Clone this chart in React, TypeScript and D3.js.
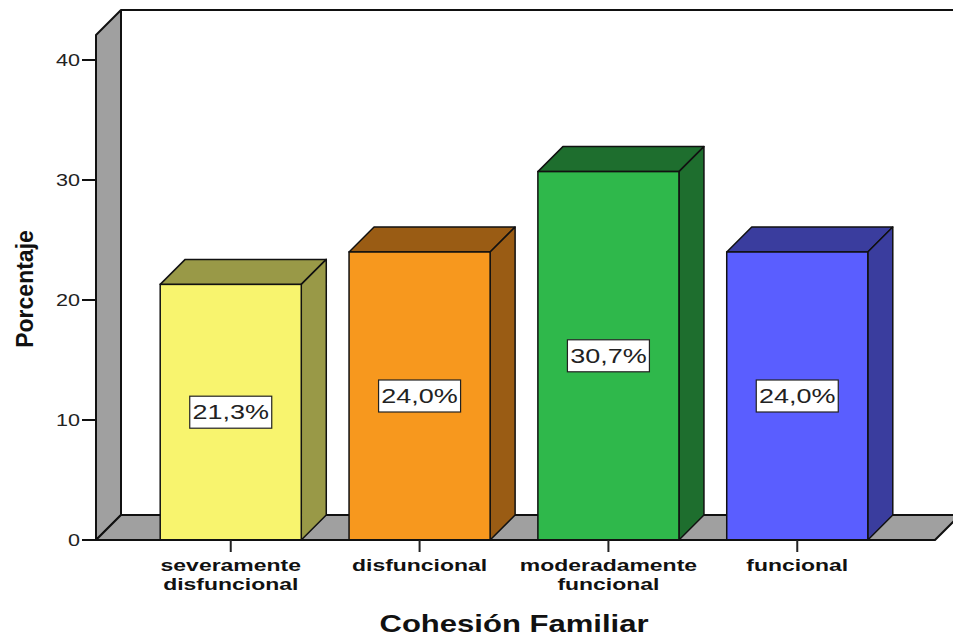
import React from "react";
import * as d3 from "d3";

const categories = ["severamente disfuncional", "disfuncional", "moderadamente funcional", "funcional"];
const labelLines = [["severamente", "disfuncional"], ["disfuncional"], ["moderadamente", "funcional"], ["funcional"]];
const values = [21.3, 24.0, 30.7, 24.0];
const valueLabels = ["21,3%", "24,0%", "30,7%", "24,0%"];
const yTicks = [0, 10, 20, 30, 40];
const frontColors = ["#F8F46E", "#F7981E", "#2FB84B", "#5A5EFF"];
const shadeColors = ["#999947", "#9A5C14", "#1E6E2E", "#3A3D9E"];

const W = 953;
const H = 637;
const DEPTH = 25;
const AXIS_X = 96;
const FLOOR_RIGHT = 935;
const SX = 1.35; // horizontal widening of the text glyphs

export default function App() {
  const y = d3.scaleLinear().domain([0, 40]).range([540, 60]);
  const x = d3
    .scaleBand<string>()
    .domain(categories)
    .range([113, 915])
    .paddingInner(0.253)
    .paddingOuter(0.25);

  const yTop = y(42.08);
  const y0 = y(0);
  const font = "'Liberation Sans', Arial, sans-serif";
  const pts = (p: [number, number][]) => p.map((q) => q.join(",")).join(" ");

  return (
    <svg width={W} height={H} style={{ position: "absolute", left: 0, top: 0, background: "#fff" }}>
      {/* back wall top edge and back vertical */}
      <line x1={AXIS_X + DEPTH} y1={yTop - DEPTH} x2={W + 10} y2={yTop - DEPTH} stroke="#111" strokeWidth={2} />
      <line x1={AXIS_X + DEPTH} y1={yTop - DEPTH} x2={AXIS_X + DEPTH} y2={y0 - DEPTH} stroke="#111" strokeWidth={2} />
      {/* left wall */}
      <polygon
        points={pts([
          [AXIS_X, yTop],
          [AXIS_X + DEPTH, yTop - DEPTH],
          [AXIS_X + DEPTH, y0 - DEPTH],
          [AXIS_X, y0],
        ])}
        fill="#A0A0A0"
        stroke="#111"
        strokeWidth={2}
        strokeLinejoin="round"
      />
      {/* floor */}
      <polygon
        points={pts([
          [AXIS_X, y0],
          [AXIS_X + DEPTH, y0 - DEPTH],
          [FLOOR_RIGHT + DEPTH, y0 - DEPTH],
          [FLOOR_RIGHT, y0],
        ])}
        fill="#A0A0A0"
        stroke="#111"
        strokeWidth={2}
        strokeLinejoin="round"
      />
      {/* y ticks */}
      {yTicks.map((t) => (
        <g key={t}>
          <line x1={AXIS_X - 14} x2={AXIS_X} y1={y(t)} y2={y(t)} stroke="#111" strokeWidth={2} />
          <text
            transform={`translate(${AXIS_X - 16},${y(t)}) scale(${SX},1)`}
            dy="0.35em"
            textAnchor="end"
            fontFamily={font}
            fontSize={16}
            fill="#222"
          >
            {t}
          </text>
        </g>
      ))}
      {/* bars */}
      {categories.map((c, i) => {
        const x0 = x(c)!;
        const x1 = x0 + x.bandwidth();
        const yt = y(values[i]);
        return (
          <g key={c}>
            <polygon
              points={pts([
                [x0, yt],
                [x0 + DEPTH, yt - DEPTH],
                [x1 + DEPTH, yt - DEPTH],
                [x1, yt],
              ])}
              fill={shadeColors[i]}
              stroke="#111"
              strokeWidth={1.5}
              strokeLinejoin="round"
            />
            <polygon
              points={pts([
                [x1, yt],
                [x1 + DEPTH, yt - DEPTH],
                [x1 + DEPTH, y0 - DEPTH],
                [x1, y0],
              ])}
              fill={shadeColors[i]}
              stroke="#111"
              strokeWidth={1.5}
              strokeLinejoin="round"
            />
            <rect x={x0} y={yt} width={x1 - x0} height={y0 - yt} fill={frontColors[i]} stroke="#111" strokeWidth={1.5} />
          </g>
        );
      })}
      {/* front baseline */}
      <line x1={AXIS_X} x2={FLOOR_RIGHT} y1={y0} y2={y0} stroke="#111" strokeWidth={2} />
      {/* value labels */}
      {categories.map((c, i) => {
        const cx = x(c)! + x.bandwidth() / 2;
        const cy = y(values[i] / 2);
        return (
          <g key={c}>
            <rect x={cx - 41} y={cy - 16} width={82} height={32} fill="#fff" stroke="#222" strokeWidth={1.2} />
            <text
              transform={`translate(${cx},${cy}) scale(${SX},1)`}
              dy="0.36em"
              textAnchor="middle"
              fontFamily={font}
              fontSize={20}
              fill="#222"
            >
              {valueLabels[i]}
            </text>
          </g>
        );
      })}
      {/* category ticks and labels */}
      {categories.map((c, i) => {
        const cx = x(c)! + x.bandwidth() / 2;
        return (
          <g key={c}>
            <line x1={cx} x2={cx} y1={y0} y2={y0 + 12} stroke="#222" strokeWidth={2} />
            <text
              transform={`translate(${cx},0) scale(${SX},1)`}
              textAnchor="middle"
              fontFamily={font}
              fontSize={17}
              fontWeight="bold"
              fill="#111"
            >
              {labelLines[i].map((l, j) => (
                <tspan key={j} x={0} y={571 + j * 19}>
                  {l}
                </tspan>
              ))}
            </text>
          </g>
        );
      })}
      {/* axis titles */}
      <text
        transform={`translate(514,632) scale(${SX},1)`}
        textAnchor="middle"
        fontFamily={font}
        fontSize={23}
        fontWeight="bold"
        fill="#111"
      >
        Cohesión Familiar
      </text>
      <text
        transform={`translate(33,289) rotate(-90)`}
        textAnchor="middle"
        fontFamily={font}
        fontSize={23}
        fontWeight="bold"
        fill="#111"
      >
        Porcentaje
      </text>
    </svg>
  );
}
